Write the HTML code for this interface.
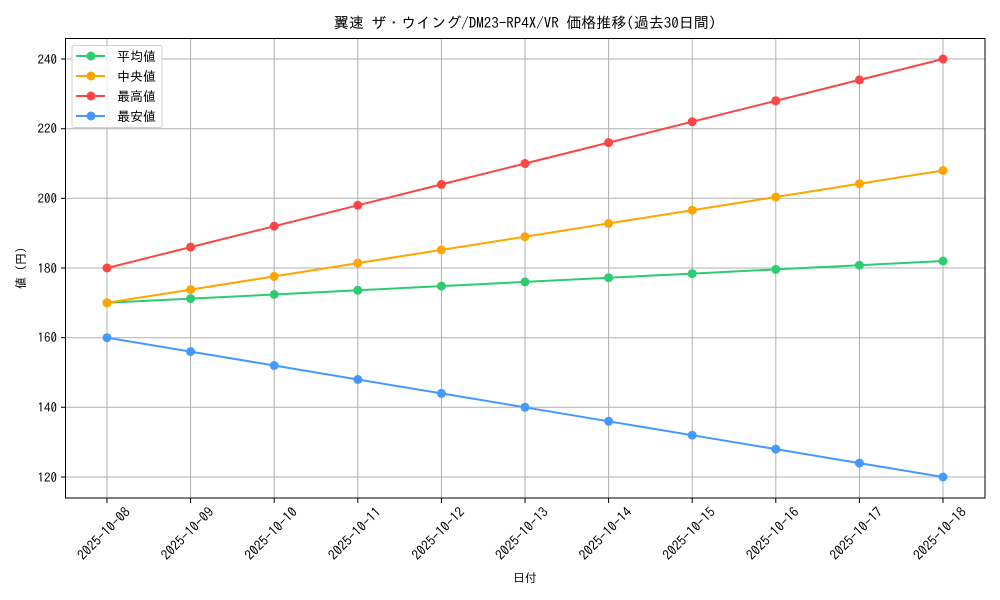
<!DOCTYPE html>
<html><head><meta charset="utf-8"><style>body{margin:0;background:#fff}svg{display:block}text{font-family:"IPAGothic","Noto Sans CJK JP",sans-serif;fill:#000}</style></head><body>
<svg width="1000" height="600" xmlns="http://www.w3.org/2000/svg">
<rect width="1000" height="600" fill="#fff"/>
<text x="525" y="28" font-size="15" text-anchor="middle">翼速 ザ・ウイング/DM23-RP4X/VR 価格推移(過去30日間)</text>
<g stroke="#b0b0b0" stroke-width="1">
<line x1="107" y1="38" x2="107" y2="498"/><line x1="190.6" y1="38" x2="190.6" y2="498"/><line x1="274.2" y1="38" x2="274.2" y2="498"/><line x1="357.8" y1="38" x2="357.8" y2="498"/><line x1="441.4" y1="38" x2="441.4" y2="498"/><line x1="525" y1="38" x2="525" y2="498"/><line x1="608.6" y1="38" x2="608.6" y2="498"/><line x1="692.2" y1="38" x2="692.2" y2="498"/><line x1="775.8" y1="38" x2="775.8" y2="498"/><line x1="859.4" y1="38" x2="859.4" y2="498"/><line x1="943" y1="38" x2="943" y2="498"/>
<line x1="66" y1="59" x2="985" y2="59"/><line x1="66" y1="128.7" x2="985" y2="128.7"/><line x1="66" y1="198.3" x2="985" y2="198.3"/><line x1="66" y1="268" x2="985" y2="268"/><line x1="66" y1="337.7" x2="985" y2="337.7"/><line x1="66" y1="407.3" x2="985" y2="407.3"/><line x1="66" y1="477" x2="985" y2="477"/>
</g>
<rect x="65.5" y="38.5" width="919.5" height="459.5" fill="none" stroke="#000" stroke-width="1"/>
<g stroke="#000"><line x1="61" y1="59" x2="65.5" y2="59"/><line x1="61" y1="128.7" x2="65.5" y2="128.7"/><line x1="61" y1="198.3" x2="65.5" y2="198.3"/><line x1="61" y1="268" x2="65.5" y2="268"/><line x1="61" y1="337.7" x2="65.5" y2="337.7"/><line x1="61" y1="407.3" x2="65.5" y2="407.3"/><line x1="61" y1="477" x2="65.5" y2="477"/></g>
<g font-size="13" text-anchor="end"><text x="57" y="64">240</text><text x="57" y="133">220</text><text x="57" y="203">200</text><text x="57" y="273">180</text><text x="57" y="342">160</text><text x="57" y="412">140</text><text x="57" y="482">120</text></g>
<g stroke="#000">
<line x1="107" y1="498" x2="107" y2="503"/><line x1="190.6" y1="498" x2="190.6" y2="503"/><line x1="274.2" y1="498" x2="274.2" y2="503"/><line x1="357.8" y1="498" x2="357.8" y2="503"/><line x1="441.4" y1="498" x2="441.4" y2="503"/><line x1="525" y1="498" x2="525" y2="503"/><line x1="608.6" y1="498" x2="608.6" y2="503"/><line x1="692.2" y1="498" x2="692.2" y2="503"/><line x1="775.8" y1="498" x2="775.8" y2="503"/><line x1="859.4" y1="498" x2="859.4" y2="503"/><line x1="943" y1="498" x2="943" y2="503"/>
</g>
<g font-size="13.5" text-anchor="end">
<text transform="translate(131,513) rotate(-45)">2025-10-08</text>
<text transform="translate(214.6,513) rotate(-45)">2025-10-09</text>
<text transform="translate(298.2,513) rotate(-45)">2025-10-10</text>
<text transform="translate(381.8,513) rotate(-45)">2025-10-11</text>
<text transform="translate(465.4,513) rotate(-45)">2025-10-12</text>
<text transform="translate(549,513) rotate(-45)">2025-10-13</text>
<text transform="translate(632.6,513) rotate(-45)">2025-10-14</text>
<text transform="translate(716.2,513) rotate(-45)">2025-10-15</text>
<text transform="translate(799.8,513) rotate(-45)">2025-10-16</text>
<text transform="translate(883.4,513) rotate(-45)">2025-10-17</text>
<text transform="translate(967,513) rotate(-45)">2025-10-18</text>
</g>
<text x="525" y="582" font-size="12" text-anchor="middle">日付</text>
<text transform="translate(25,268) rotate(-90)" font-size="12" text-anchor="middle">値 (円)</text>
<g fill="none" stroke-width="2">
<polyline stroke="#2ecc71" points="107,302.8 190.6,298.6 274.2,294.5 357.8,290.3 441.4,286.1 525,281.9 608.6,277.7 692.2,273.6 775.8,269.4 859.4,265.2 943,261"/>
<polyline stroke="#ffa500" points="107,302.8 190.6,289.6 274.2,276.4 357.8,263.1 441.4,249.9 525,236.7 608.6,223.4 692.2,210.2 775.8,197 859.4,183.7 943,170.5"/>
<polyline stroke="#ff4444" points="107,268 190.6,247.1 274.2,226.2 357.8,205.3 441.4,184.4 525,163.5 608.6,142.6 692.2,121.7 775.8,100.8 859.4,79.9 943,59"/>
<polyline stroke="#4499ff" points="107,337.7 190.6,351.6 274.2,365.5 357.8,379.5 441.4,393.4 525,407.3 608.6,421.3 692.2,435.2 775.8,449.1 859.4,463.1 943,477"/>
</g>
<g fill="#2ecc71"><circle cx="107" cy="302.8" r="4.5"/><circle cx="190.6" cy="298.6" r="4.5"/><circle cx="274.2" cy="294.5" r="4.5"/><circle cx="357.8" cy="290.3" r="4.5"/><circle cx="441.4" cy="286.1" r="4.5"/><circle cx="525" cy="281.9" r="4.5"/><circle cx="608.6" cy="277.7" r="4.5"/><circle cx="692.2" cy="273.6" r="4.5"/><circle cx="775.8" cy="269.4" r="4.5"/><circle cx="859.4" cy="265.2" r="4.5"/><circle cx="943" cy="261" r="4.5"/></g>
<g fill="#ffa500"><circle cx="107" cy="302.8" r="4.5"/><circle cx="190.6" cy="289.6" r="4.5"/><circle cx="274.2" cy="276.4" r="4.5"/><circle cx="357.8" cy="263.1" r="4.5"/><circle cx="441.4" cy="249.9" r="4.5"/><circle cx="525" cy="236.7" r="4.5"/><circle cx="608.6" cy="223.4" r="4.5"/><circle cx="692.2" cy="210.2" r="4.5"/><circle cx="775.8" cy="197" r="4.5"/><circle cx="859.4" cy="183.7" r="4.5"/><circle cx="943" cy="170.5" r="4.5"/></g>
<g fill="#ff4444"><circle cx="107" cy="268" r="4.5"/><circle cx="190.6" cy="247.1" r="4.5"/><circle cx="274.2" cy="226.2" r="4.5"/><circle cx="357.8" cy="205.3" r="4.5"/><circle cx="441.4" cy="184.4" r="4.5"/><circle cx="525" cy="163.5" r="4.5"/><circle cx="608.6" cy="142.6" r="4.5"/><circle cx="692.2" cy="121.7" r="4.5"/><circle cx="775.8" cy="100.8" r="4.5"/><circle cx="859.4" cy="79.9" r="4.5"/><circle cx="943" cy="59" r="4.5"/></g>
<g fill="#4499ff"><circle cx="107" cy="337.7" r="4.5"/><circle cx="190.6" cy="351.6" r="4.5"/><circle cx="274.2" cy="365.5" r="4.5"/><circle cx="357.8" cy="379.5" r="4.5"/><circle cx="441.4" cy="393.4" r="4.5"/><circle cx="525" cy="407.3" r="4.5"/><circle cx="608.6" cy="421.3" r="4.5"/><circle cx="692.2" cy="435.2" r="4.5"/><circle cx="775.8" cy="449.1" r="4.5"/><circle cx="859.4" cy="463.1" r="4.5"/><circle cx="943" cy="477" r="4.5"/></g>
<rect x="72" y="45.5" width="90" height="82" rx="2" fill="#fff" fill-opacity="0.8" stroke="#d0d0d0"/>
<g stroke-width="2"><line x1="76" y1="56" x2="105" y2="56" stroke="#2ecc71"/><line x1="76" y1="76" x2="105" y2="76" stroke="#ffa500"/><line x1="76" y1="96" x2="105" y2="96" stroke="#ff4444"/><line x1="76" y1="116" x2="105" y2="116" stroke="#4499ff"/></g>
<circle cx="91" cy="56" r="4.5" fill="#2ecc71"/><circle cx="91" cy="76" r="4.5" fill="#ffa500"/><circle cx="91" cy="96" r="4.5" fill="#ff4444"/><circle cx="91" cy="116" r="4.5" fill="#4499ff"/>
<g font-size="13"><text x="117" y="61">平均値</text><text x="117" y="81">中央値</text><text x="117" y="101">最高値</text><text x="117" y="121">最安値</text></g>
</svg>
</body></html>
